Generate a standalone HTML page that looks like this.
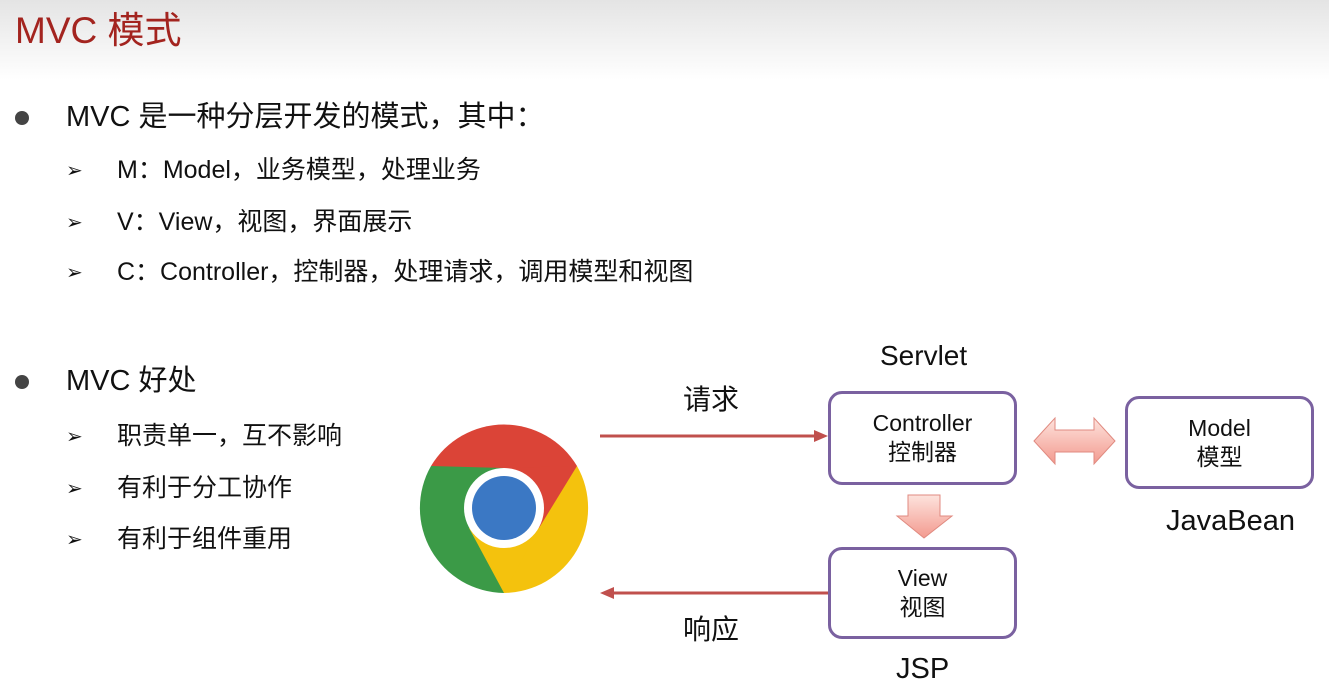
<!DOCTYPE html>
<html><head><meta charset="utf-8"><style>
body{margin:0;width:1329px;height:696px;background:#fff;position:relative;overflow:hidden;font-family:"Liberation Sans","Noto Sans CJK SC",sans-serif;color:#111}
.hd{position:absolute;left:0;top:0;width:1329px;height:80px;background:linear-gradient(#e4e4e4,#fff)}
.t{position:absolute;white-space:nowrap;line-height:1}
.dot{position:absolute;width:14px;height:14px;border-radius:50%;background:#444;left:15px}
.box{position:absolute;border:3px solid #7a61a0;border-radius:14px;background:#fff;text-align:center;font-size:23px;box-sizing:border-box;display:flex;flex-direction:column;justify-content:center;line-height:1.25}
</style></head><body>
<div class="hd"></div>
<div class="t" style="left:15px;top:12px;font-size:37px;color:#a3241f">MVC 模式</div>
<div class="dot" style="top:111px"></div>
<div class="t" style="left:66px;top:103px;font-size:29px">MVC 是一种分层开发的模式，其中：</div>
<div class="t" style="left:66px;top:161px;font-size:20px">➢</div><div class="t" style="left:117px;top:158px;font-size:25px">M：Model，业务模型，处理业务</div>
<div class="t" style="left:66px;top:213px;font-size:20px">➢</div><div class="t" style="left:117px;top:210px;font-size:25px">V：View，视图，界面展示</div>
<div class="t" style="left:66px;top:263px;font-size:20px">➢</div><div class="t" style="left:117px;top:260px;font-size:25px">C：Controller，控制器，处理请求，调用模型和视图</div>
<div class="dot" style="top:375px"></div>
<div class="t" style="left:66px;top:367px;font-size:29px">MVC 好处</div>
<div class="t" style="left:66px;top:427px;font-size:20px">➢</div><div class="t" style="left:117px;top:424px;font-size:25px">职责单一，互不影响</div>
<div class="t" style="left:66px;top:479px;font-size:20px">➢</div><div class="t" style="left:117px;top:476px;font-size:25px">有利于分工协作</div>
<div class="t" style="left:66px;top:530px;font-size:20px">➢</div><div class="t" style="left:117px;top:527px;font-size:25px">有利于组件重用</div>
<div class="t" style="left:880px;top:342px;font-size:28px">Servlet</div>
<div class="t" style="left:683px;top:386px;font-size:28px">请求</div>
<div class="t" style="left:683px;top:616px;font-size:28px">响应</div>
<div class="t" style="left:1166px;top:507px;font-size:29px">JavaBean</div>
<div class="t" style="left:896px;top:655px;font-size:29px">JSP</div>
<svg style="position:absolute;left:0;top:0" width="1329" height="696">
<defs>
<linearGradient id="g" x1="0" y1="0" x2="0" y2="1"><stop offset="0" stop-color="#fde3dd"/><stop offset="1" stop-color="#f39a8f"/></linearGradient>
</defs>
<line x1="600" y1="436" x2="818" y2="436" stroke="#c0504d" stroke-width="3"/>
<polygon points="828,436 814,430 814,442" fill="#c0504d"/>
<line x1="612" y1="593" x2="828" y2="593" stroke="#c0504d" stroke-width="3"/>
<polygon points="600,593 614,587 614,599" fill="#c0504d"/>
<polygon points="1034,441 1055,418 1055,430 1094,430 1094,418 1115,441 1094,464 1094,452 1055,452 1055,464" fill="url(#g)" stroke="#e08a80" stroke-width="1"/>
<polygon points="908,495 940,495 940,516 952,516 924,538 897,516 908,516" fill="url(#g)" stroke="#e08a80" stroke-width="1"/>
<g transform="translate(504,508)">
<path d="M0,0 L-73,-42 A85,85 0 0 1 73,-42 Z" fill="#db4437"/>
<path d="M0,0 L73,-42 A85,85 0 0 1 0,85 Z" fill="#f4c20d"/>
<path d="M0,0 L0,85 A85,85 0 0 1 -73,-42 Z" fill="#3b9a47"/>
<path d="M0,-40 L73,-42 L35,20 Z" fill="#db4437"/>
<path d="M35,20 L0,85 L-35,20 Z" fill="#f4c20d"/>
<path d="M-35,20 L-73,-42 L0,-40 Z" fill="#3b9a47"/>
<circle r="40" fill="#fff"/>
<circle r="32" fill="#3b78c4"/>
</g>
</svg>
<div class="box" style="left:828px;top:391px;width:189px;height:94px">Controller<br>控制器</div>
<div class="box" style="left:1125px;top:396px;width:189px;height:93px">Model<br>模型</div>
<div class="box" style="left:828px;top:547px;width:189px;height:92px">View<br>视图</div>
</body></html>
